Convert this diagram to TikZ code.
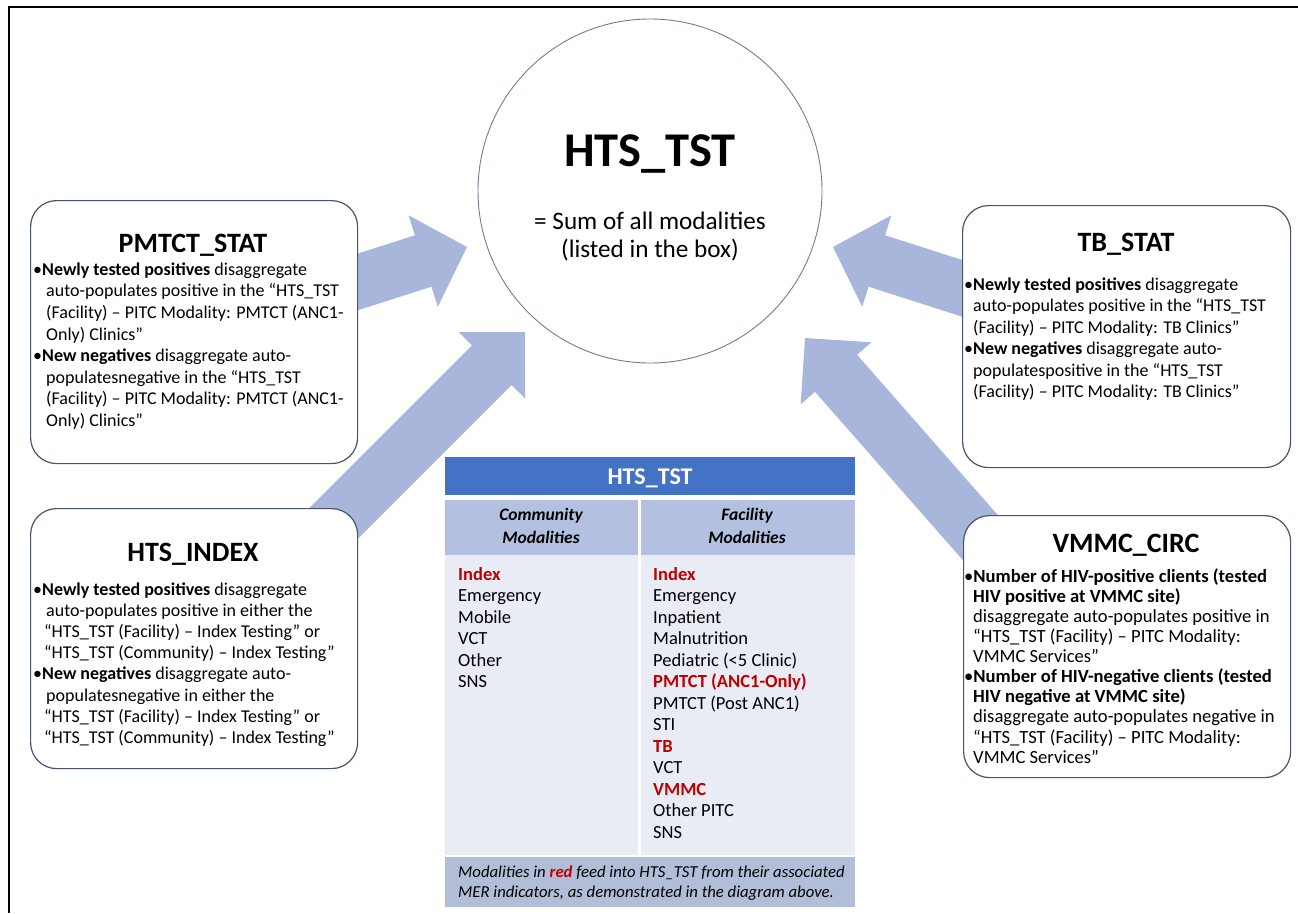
\documentclass[tikz,border=0pt]{standalone}
\usepackage{fontspec}
\setmainfont{Carlito}
\usetikzlibrary{calc}
\pgfdeclarelayer{bg}
\pgfsetlayers{bg,main}
\definecolor{arrowblue}{RGB}{168,182,220}
\definecolor{boxborder}{RGB}{72,84,108}
\definecolor{circborder}{RGB}{110,124,160}
\definecolor{tblhead}{RGB}{68,114,196}
\definecolor{tblsub}{RGB}{180,192,224}
\definecolor{tblbody}{RGB}{233,236,244}
\definecolor{tblfoot}{RGB}{178,189,216}
\definecolor{tred}{RGB}{192,0,0}
\newcommand\fatarrow[5]{%
  \coordinate (fa-h) at ($(#2)!#5!(#1)$);
  \fill[arrowblue] ($(#1)!#3!90:(#2)$) -- ($(fa-h)!#3!90:(#2)$) -- ($(fa-h)!#4!90:(#2)$) -- (#2)
    -- ($(fa-h)!#4!-90:(#2)$) -- ($(fa-h)!#3!-90:(#2)$) -- ($(#1)!#3!-90:(#2)$) -- cycle;
}
\tikzset{
  infobox/.style={draw=boxborder, line width=1.2pt, fill=white, rounded corners=26pt, inner sep=0pt, anchor=north west},
  boxtitle/.style={anchor=base, font=\bfseries\fontsize{28}{32}\selectfont},
  boxbody/.style={anchor=north west, align=left, inner sep=0pt, font=\fontsize{18}{21.6}\selectfont},
  colbody/.style={anchor=north west, align=left, inner sep=0pt, font=\fontsize{18.5}{21.5}\selectfont},
  subhead/.style={anchor=base, font=\bfseries\itshape\fontsize{17.5}{21}\selectfont},
  foot/.style={anchor=base west, inner sep=0pt, font=\itshape\fontsize{16.7}{20}\selectfont},
}
\begin{document}
\begin{tikzpicture}[x=1pt,y=-1pt]
\useasboundingbox (0,0) rectangle (1298,913);
\begin{pgfonlayer}{bg}
\fill[white] (0,0) rectangle (1298,913);
\end{pgfonlayer}
% frame
\draw[line width=2.5pt] (9,913) -- (9,7) -- (1298,7);

% central circle
\node[circle, draw=circborder, line width=0.9pt, fill=white, minimum size=344pt, inner sep=0pt] (hts) at (650,191) {};
\node[anchor=base, font=\bfseries\fontsize{48.5}{54}\selectfont] (htstitle) at (650,166) {HTS\_TST};
\node[anchor=base, font=\fontsize{25.2}{29}\selectfont] (sum1) at (650,229) {= Sum of all modalities};
\node[anchor=base, font=\fontsize{25.2}{29}\selectfont] (sum2) at (650,257) {(listed in the box)};

% boxes
\node[infobox, minimum width=327pt, minimum height=263pt] (pmtct) at (30,200) {};
\node[infobox, minimum width=327pt, minimum height=260pt] (index) at (30,508) {};
\node[infobox, minimum width=328pt, minimum height=262pt] (tb) at (962,205) {};
\node[infobox, minimum width=327pt, minimum height=262pt] (vmmc) at (963,515) {};

% arrows (behind)
\coordinate (a1s) at (320,294); \coordinate (a1e) at (467,247);
\coordinate (a3s) at (980,294); \coordinate (a3e) at (833,247);
\coordinate (a2s) at (300,557); \coordinate (a2e) at (525,332);
\coordinate (a4s) at (1000,560); \coordinate (a4e) at (805,338);
\begin{pgfonlayer}{bg}
\fatarrow{a1s}{a1e}{27pt}{48pt}{46pt}
\fatarrow{a3s}{a3e}{27pt}{48pt}{46pt}
\fatarrow{a2s}{a2e}{28pt}{47pt}{47pt}
\fatarrow{a4s}{a4e}{28pt}{47pt}{47pt}
\end{pgfonlayer}

% PMTCT_STAT
\node[boxtitle] (pmtctT) at (193,252) {PMTCT\_STAT};
\node[boxbody] (pmtctB) at (33,260) {\strut\textbullet\textbf{Newly tested positives} disaggregate\\
\hspace*{13pt}auto-populates positive in the “HTS\_TST\\
\hspace*{13pt}(Facility) – PITC Modality: PMTCT (ANC1-\\
\hspace*{13pt}Only) Clinics”\\
\textbullet\textbf{New negatives} disaggregate auto-\\
\hspace*{13pt}populatesnegative in the “HTS\_TST\\
\hspace*{13pt}(Facility) – PITC Modality: PMTCT (ANC1-\\
\hspace*{13pt}Only) Clinics”};

% HTS_INDEX
\node[boxtitle] (indexT) at (193,561) {HTS\_INDEX};
\node[boxbody, font=\fontsize{18}{21.2}\selectfont] (indexB) at (33,580) {\strut\textbullet\textbf{Newly tested positives} disaggregate\\
\hspace*{13pt}auto-populates positive in either the\\
\hspace*{11pt}“HTS\_TST (Facility) – Index Testing” or\\
\hspace*{11pt}“HTS\_TST (Community) – Index Testing”\\
\textbullet\textbf{New negatives} disaggregate auto-\\
\hspace*{13pt}populatesnegative in either the\\
\hspace*{11pt}“HTS\_TST (Facility) – Index Testing” or\\
\hspace*{11pt}“HTS\_TST (Community) – Index Testing”};

% TB_STAT
\node[boxtitle] (tbT) at (1126,251) {TB\_STAT};
\node[boxbody, font=\fontsize{18}{21.5}\selectfont] (tbB) at (964,275) {\strut\textbullet\textbf{Newly tested positives} disaggregate\\
\hspace*{9pt}auto-populates positive in the “HTS\_TST\\
\hspace*{9pt}(Facility) – PITC Modality: TB Clinics”\\
\textbullet\textbf{New negatives} disaggregate auto-\\
\hspace*{9pt}populatespositive in the “HTS\_TST\\
\hspace*{9pt}(Facility) – PITC Modality: TB Clinics”};

% VMMC_CIRC
\node[boxtitle] (vmmcT) at (1126,552) {VMMC\_CIRC};
\node[boxbody, font=\fontsize{18.6}{20.1}\selectfont] (vmmcB) at (964,568) {\strut\textbullet\textbf{Number of HIV-positive clients (tested}\\
\hspace*{9pt}\textbf{HIV positive at VMMC site)}\\
\hspace*{9pt}disaggregate auto-populates positive in\\
\hspace*{9pt}“HTS\_TST (Facility) – PITC Modality:\\
\hspace*{9pt}VMMC Services”\\
\textbullet\textbf{Number of HIV-negative clients (tested}\\
\hspace*{9pt}\textbf{HIV negative at VMMC site)}\\
\hspace*{9pt}disaggregate auto-populates negative in\\
\hspace*{9pt}“HTS\_TST (Facility) – PITC Modality:\\
\hspace*{9pt}VMMC Services”};

% table
\fill[tblhead] (445,457) rectangle (855,495);
\fill[tblsub] (445,500) rectangle (855,555);
\fill[tblbody] (445,555) rectangle (855,855);
\fill[tblfoot] (445,857) rectangle (855,907);
\draw[white, line width=3pt] (639.5,500) -- (639.5,855);
\node[anchor=base, text=white, font=\bfseries\fontsize{24}{28}\selectfont] (tblT) at (650,484) {HTS\_TST};
\node[subhead] (c1a) at (541,520) {Community};
\node[subhead] (c1b) at (541,543) {Modalities};
\node[subhead] (c2a) at (747,520) {Facility};
\node[subhead] (c2b) at (747,543) {Modalities};
\node[colbody] (comm) at (458,565) {\strut\textcolor{tred}{\textbf{Index}}\\Emergency\\Mobile\\VCT\\Other\\SNS};
\node[colbody] (fac) at (653,565) {\strut\textcolor{tred}{\textbf{Index}}\\Emergency\\Inpatient\\Malnutrition\\Pediatric (<5 Clinic)\\
\textcolor{tred}{\textbf{PMTCT (ANC1-Only)}}\\PMTCT (Post ANC1)\\STI\\\textcolor{tred}{\textbf{TB}}\\VCT\\\textcolor{tred}{\textbf{VMMC}}\\Other PITC\\SNS};
\node[foot] (f1) at (458,877) {Modalities in \textcolor{tred}{\textbf{red}} feed into HTS\_TST from their associated};
\node[foot] (f2) at (458,897) {MER indicators, as demonstrated in the diagram above.};
\end{tikzpicture}
\end{document}
